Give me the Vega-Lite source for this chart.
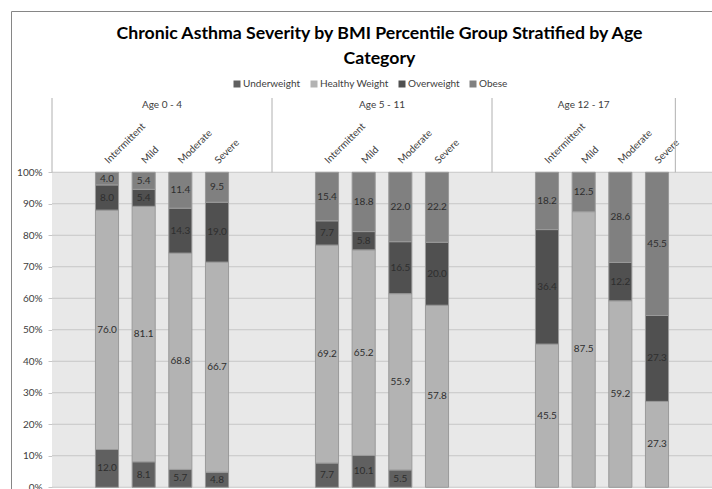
{
  "$schema": "https://vega.github.io/schema/vega-lite/v6.json",
  "width": 701,
  "height": 478,
  "autosize": "none",
  "padding": {"left": 11, "top": 11, "right": 0, "bottom": 0},
  "background": "#ffffff",
  "config": {"font": "Lato", "view": {"stroke": null}},
  "title": {
    "text": ["Chronic Asthma Severity by BMI Percentile Group Stratified by Age", "Category"],
    "font": "Lato",
    "fontSize": 17.7,
    "fontWeight": "bold",
    "color": "#000000",
    "lineHeight": 25,
    "anchor": "middle",
    "frame": "group",
    "offset": -57,
    "dx": 18
  },
  "datasets": {
    "main": [
      {"age": "Age 0 - 4", "severity": "Intermittent", "slot": "0-4 Intermittent", "bmi": "Underweight", "k": 1, "value": 12.0},
      {"age": "Age 0 - 4", "severity": "Intermittent", "slot": "0-4 Intermittent", "bmi": "Healthy Weight", "k": 2, "value": 76.0},
      {"age": "Age 0 - 4", "severity": "Intermittent", "slot": "0-4 Intermittent", "bmi": "Overweight", "k": 3, "value": 8.0},
      {"age": "Age 0 - 4", "severity": "Intermittent", "slot": "0-4 Intermittent", "bmi": "Obese", "k": 4, "value": 4.0},
      {"age": "Age 0 - 4", "severity": "Mild", "slot": "0-4 Mild", "bmi": "Underweight", "k": 1, "value": 8.1},
      {"age": "Age 0 - 4", "severity": "Mild", "slot": "0-4 Mild", "bmi": "Healthy Weight", "k": 2, "value": 81.1},
      {"age": "Age 0 - 4", "severity": "Mild", "slot": "0-4 Mild", "bmi": "Overweight", "k": 3, "value": 5.4},
      {"age": "Age 0 - 4", "severity": "Mild", "slot": "0-4 Mild", "bmi": "Obese", "k": 4, "value": 5.4},
      {"age": "Age 0 - 4", "severity": "Moderate", "slot": "0-4 Moderate", "bmi": "Underweight", "k": 1, "value": 5.7},
      {"age": "Age 0 - 4", "severity": "Moderate", "slot": "0-4 Moderate", "bmi": "Healthy Weight", "k": 2, "value": 68.8},
      {"age": "Age 0 - 4", "severity": "Moderate", "slot": "0-4 Moderate", "bmi": "Overweight", "k": 3, "value": 14.3},
      {"age": "Age 0 - 4", "severity": "Moderate", "slot": "0-4 Moderate", "bmi": "Obese", "k": 4, "value": 11.4},
      {"age": "Age 0 - 4", "severity": "Severe", "slot": "0-4 Severe", "bmi": "Underweight", "k": 1, "value": 4.8},
      {"age": "Age 0 - 4", "severity": "Severe", "slot": "0-4 Severe", "bmi": "Healthy Weight", "k": 2, "value": 66.7},
      {"age": "Age 0 - 4", "severity": "Severe", "slot": "0-4 Severe", "bmi": "Overweight", "k": 3, "value": 19.0},
      {"age": "Age 0 - 4", "severity": "Severe", "slot": "0-4 Severe", "bmi": "Obese", "k": 4, "value": 9.5},
      {"age": "Age 5 - 11", "severity": "Intermittent", "slot": "5-11 Intermittent", "bmi": "Underweight", "k": 1, "value": 7.7},
      {"age": "Age 5 - 11", "severity": "Intermittent", "slot": "5-11 Intermittent", "bmi": "Healthy Weight", "k": 2, "value": 69.2},
      {"age": "Age 5 - 11", "severity": "Intermittent", "slot": "5-11 Intermittent", "bmi": "Overweight", "k": 3, "value": 7.7},
      {"age": "Age 5 - 11", "severity": "Intermittent", "slot": "5-11 Intermittent", "bmi": "Obese", "k": 4, "value": 15.4},
      {"age": "Age 5 - 11", "severity": "Mild", "slot": "5-11 Mild", "bmi": "Underweight", "k": 1, "value": 10.1},
      {"age": "Age 5 - 11", "severity": "Mild", "slot": "5-11 Mild", "bmi": "Healthy Weight", "k": 2, "value": 65.2},
      {"age": "Age 5 - 11", "severity": "Mild", "slot": "5-11 Mild", "bmi": "Overweight", "k": 3, "value": 5.8},
      {"age": "Age 5 - 11", "severity": "Mild", "slot": "5-11 Mild", "bmi": "Obese", "k": 4, "value": 18.8},
      {"age": "Age 5 - 11", "severity": "Moderate", "slot": "5-11 Moderate", "bmi": "Underweight", "k": 1, "value": 5.5},
      {"age": "Age 5 - 11", "severity": "Moderate", "slot": "5-11 Moderate", "bmi": "Healthy Weight", "k": 2, "value": 55.9},
      {"age": "Age 5 - 11", "severity": "Moderate", "slot": "5-11 Moderate", "bmi": "Overweight", "k": 3, "value": 16.5},
      {"age": "Age 5 - 11", "severity": "Moderate", "slot": "5-11 Moderate", "bmi": "Obese", "k": 4, "value": 22.0},
      {"age": "Age 5 - 11", "severity": "Severe", "slot": "5-11 Severe", "bmi": "Healthy Weight", "k": 2, "value": 57.8},
      {"age": "Age 5 - 11", "severity": "Severe", "slot": "5-11 Severe", "bmi": "Overweight", "k": 3, "value": 20.0},
      {"age": "Age 5 - 11", "severity": "Severe", "slot": "5-11 Severe", "bmi": "Obese", "k": 4, "value": 22.2},
      {"age": "Age 12 - 17", "severity": "Intermittent", "slot": "12-17 Intermittent", "bmi": "Healthy Weight", "k": 2, "value": 45.5},
      {"age": "Age 12 - 17", "severity": "Intermittent", "slot": "12-17 Intermittent", "bmi": "Overweight", "k": 3, "value": 36.4},
      {"age": "Age 12 - 17", "severity": "Intermittent", "slot": "12-17 Intermittent", "bmi": "Obese", "k": 4, "value": 18.2},
      {"age": "Age 12 - 17", "severity": "Mild", "slot": "12-17 Mild", "bmi": "Healthy Weight", "k": 2, "value": 87.5},
      {"age": "Age 12 - 17", "severity": "Mild", "slot": "12-17 Mild", "bmi": "Obese", "k": 4, "value": 12.5},
      {"age": "Age 12 - 17", "severity": "Moderate", "slot": "12-17 Moderate", "bmi": "Healthy Weight", "k": 2, "value": 59.2},
      {"age": "Age 12 - 17", "severity": "Moderate", "slot": "12-17 Moderate", "bmi": "Overweight", "k": 3, "value": 12.2},
      {"age": "Age 12 - 17", "severity": "Moderate", "slot": "12-17 Moderate", "bmi": "Obese", "k": 4, "value": 28.6},
      {"age": "Age 12 - 17", "severity": "Severe", "slot": "12-17 Severe", "bmi": "Healthy Weight", "k": 2, "value": 27.3},
      {"age": "Age 12 - 17", "severity": "Severe", "slot": "12-17 Severe", "bmi": "Overweight", "k": 3, "value": 27.3},
      {"age": "Age 12 - 17", "severity": "Severe", "slot": "12-17 Severe", "bmi": "Obese", "k": 4, "value": 45.5}
    ],
    "grid": [{"v": 0}, {"v": 0.1}, {"v": 0.2}, {"v": 0.3}, {"v": 0.4}, {"v": 0.5}, {"v": 0.6}, {"v": 0.7}, {"v": 0.8}, {"v": 0.9}, {"v": 1.0}],
    "seps": [{"slot": "p0"}, {"slot": "p6"}, {"slot": "p12"}, {"slot": "p17"}],
    "ages": [
      {"age": "Age 0 - 4", "slot": "0-4 Moderate", "pos": "boundary"},
      {"age": "Age 5 - 11", "slot": "5-11 Moderate", "pos": "boundary"},
      {"age": "Age 12 - 17", "slot": "12-17 Mild", "pos": "center"}
    ],
    "area": [{"area": "plot"}]
  },
  "resolve": {"scale": {"x": "independent"}, "axis": {"x": "independent", "y": "independent"}},
  "layer": [
    {
      "data": {"name": "area"},
      "mark": {"type": "bar", "fill": "#e8e8e8"},
      "encoding": {
        "x": {"field": "area", "type": "nominal",
          "scale": {"type": "band", "domain": ["plot"], "paddingInner": 0, "paddingOuter": 0.03106, "align": 1, "round": false},
          "axis": {"orient": "top", "domain": true, "domainColor": "#868686", "domainWidth": 1, "labels": false, "ticks": false, "grid": false, "title": null}},
        "y": {"datum": 0, "type": "quantitative",
          "scale": {"domain": [-0.0054, 1.5121], "nice": false, "zero": false},
          "axis": {"orient": "left", "offset": 0, "domain": true, "domainColor": "#868686", "domainWidth": 1, "labels": false, "ticks": false, "grid": false, "title": null}},
        "y2": {"datum": 1}
      }
    },
    {
      "data": {"name": "grid"},
      "mark": {"type": "tick", "orient": "horizontal", "size": 660, "thickness": 1, "color": "#c6c6c6", "opacity": 1},
      "encoding": {
        "x": {"datum": "plot", "type": "nominal",
          "scale": {"type": "band", "domain": ["plot"], "paddingInner": 0, "paddingOuter": 0.03106, "align": 1, "round": false},
          "axis": null},
        "y": {"field": "v", "type": "quantitative", "axis": null}
      }
    },
    {
      "data": {"name": "main"},
      "mark": {"type": "bar", "stroke": "#9a9a9a", "strokeWidth": 1},
      "encoding": {
        "x": {"field": "slot", "type": "nominal",
          "scale": {"type": "band", "domain": ["p0", "0-4 Intermittent", "0-4 Mild", "0-4 Moderate", "0-4 Severe", "p5", "p6", "5-11 Intermittent", "5-11 Mild", "5-11 Moderate", "5-11 Severe", "p11", "p12", "12-17 Intermittent", "12-17 Mild", "12-17 Moderate", "12-17 Severe", "p17"],
            "paddingInner": 0.37, "paddingOuter": 0.7441, "align": 0.87568, "round": false},
          "axis": null},
        "y": {"field": "value", "type": "quantitative", "stack": "normalize",
          "axis": {"orient": "left", "offset": -41, "values": [0, 0.1, 0.2, 0.3, 0.4, 0.5, 0.6, 0.7, 0.8, 0.9, 1.0], "format": ".0%", "domain": false, "ticks": true, "tickSize": 4, "tickColor": "#c6c6c6", "labelFont": "Lato", "labelFontSize": 10, "labelColor": "#404040", "labelPadding": 6, "grid": false, "title": null}},
        "order": {"field": "k", "type": "quantitative"},
        "color": {"field": "bmi", "type": "nominal",
          "scale": {"domain": ["Underweight", "Healthy Weight", "Overweight", "Obese"], "range": ["#606060", "#b3b3b3", "#505050", "#808080"]},
          "legend": {"orient": "none", "legendX": 221, "legendY": 68, "direction": "horizontal", "title": null, "symbolType": "square", "symbolSize": 49, "symbolStrokeWidth": 0, "labelFont": "Lato", "labelFontSize": 10, "labelColor": "#404040", "labelOffset": 1, "columnPadding": 8, "padding": 0}}
      }
    },
    {
      "data": {"name": "main"},
      "mark": {"type": "text", "font": "Lato", "fontSize": 10, "color": "#2e2e2e", "baseline": "middle", "align": "center"},
      "encoding": {
        "x": {"field": "slot", "type": "nominal", "bandPosition": 0.5,
          "scale": {"type": "band", "domain": ["p0", "0-4 Intermittent", "0-4 Mild", "0-4 Moderate", "0-4 Severe", "p5", "p6", "5-11 Intermittent", "5-11 Mild", "5-11 Moderate", "5-11 Severe", "p11", "p12", "12-17 Intermittent", "12-17 Mild", "12-17 Moderate", "12-17 Severe", "p17"],
            "paddingInner": 0, "paddingOuter": 0.5591, "align": 1, "round": false},
          "axis": null},
        "y": {"field": "value", "type": "quantitative", "stack": "normalize", "bandPosition": 0.5, "axis": null},
        "order": {"field": "k", "type": "quantitative"},
        "text": {"field": "value", "type": "quantitative", "format": ".1f"}
      }
    },
    {
      "data": {"name": "main"},
      "transform": [{"filter": "datum.bmi === 'Healthy Weight'"}],
      "mark": {"type": "text", "font": "Lato", "fontSize": 10, "color": "#404040", "angle": 315, "align": "left", "baseline": "middle", "dx": 7, "dy": -7.5},
      "encoding": {
        "x": {"field": "slot", "type": "nominal", "bandPosition": 0.5,
          "scale": {"type": "band", "domain": ["p0", "0-4 Intermittent", "0-4 Mild", "0-4 Moderate", "0-4 Severe", "p5", "p6", "5-11 Intermittent", "5-11 Mild", "5-11 Moderate", "5-11 Severe", "p11", "p12", "12-17 Intermittent", "12-17 Mild", "12-17 Moderate", "12-17 Severe", "p17"],
            "paddingInner": 0, "paddingOuter": 0.5591, "align": 1, "round": false},
          "axis": null},
        "y": {"datum": 1, "type": "quantitative", "axis": null},
        "text": {"field": "severity", "type": "nominal"}
      }
    },
    {
      "data": {"name": "seps"},
      "mark": {"type": "rule", "color": "#b0b0b0", "strokeWidth": 1},
      "encoding": {
        "x": {"field": "slot", "type": "nominal", "bandPosition": 0,
          "scale": {"type": "band", "domain": ["p0", "0-4 Intermittent", "0-4 Mild", "0-4 Moderate", "0-4 Severe", "p5", "p6", "5-11 Intermittent", "5-11 Mild", "5-11 Moderate", "5-11 Severe", "p11", "p12", "12-17 Intermittent", "12-17 Mild", "12-17 Moderate", "12-17 Severe", "p17"],
            "paddingInner": 0, "paddingOuter": 0.5591, "align": 1, "round": false},
          "axis": null},
        "y": {"datum": 1, "type": "quantitative", "axis": null},
        "y2": {"datum": 1.2359}
      }
    },
    {
      "data": {"name": "ages"},
      "transform": [{"filter": "datum.pos === 'boundary'"}],
      "mark": {"type": "text", "font": "Lato", "fontSize": 10, "color": "#404040", "align": "center", "baseline": "middle"},
      "encoding": {
        "x": {"field": "slot", "type": "nominal", "bandPosition": 0,
          "scale": {"type": "band", "domain": ["p0", "0-4 Intermittent", "0-4 Mild", "0-4 Moderate", "0-4 Severe", "p5", "p6", "5-11 Intermittent", "5-11 Mild", "5-11 Moderate", "5-11 Severe", "p11", "p12", "12-17 Intermittent", "12-17 Mild", "12-17 Moderate", "12-17 Severe", "p17"],
            "paddingInner": 0, "paddingOuter": 0.5591, "align": 1, "round": false},
          "axis": null},
        "y": {"datum": 1.2137, "type": "quantitative", "axis": null},
        "text": {"field": "age", "type": "nominal"}
      }
    },
    {
      "data": {"name": "ages"},
      "transform": [{"filter": "datum.pos === 'center'"}],
      "mark": {"type": "text", "font": "Lato", "fontSize": 10, "color": "#404040", "align": "center", "baseline": "middle"},
      "encoding": {
        "x": {"field": "slot", "type": "nominal", "bandPosition": 0.5,
          "scale": {"type": "band", "domain": ["p0", "0-4 Intermittent", "0-4 Mild", "0-4 Moderate", "0-4 Severe", "p5", "p6", "5-11 Intermittent", "5-11 Mild", "5-11 Moderate", "5-11 Severe", "p11", "p12", "12-17 Intermittent", "12-17 Mild", "12-17 Moderate", "12-17 Severe", "p17"],
            "paddingInner": 0, "paddingOuter": 0.5591, "align": 1, "round": false},
          "axis": null},
        "y": {"datum": 1.2137, "type": "quantitative", "axis": null},
        "text": {"field": "age", "type": "nominal"}
      }
    }
  ]
}
